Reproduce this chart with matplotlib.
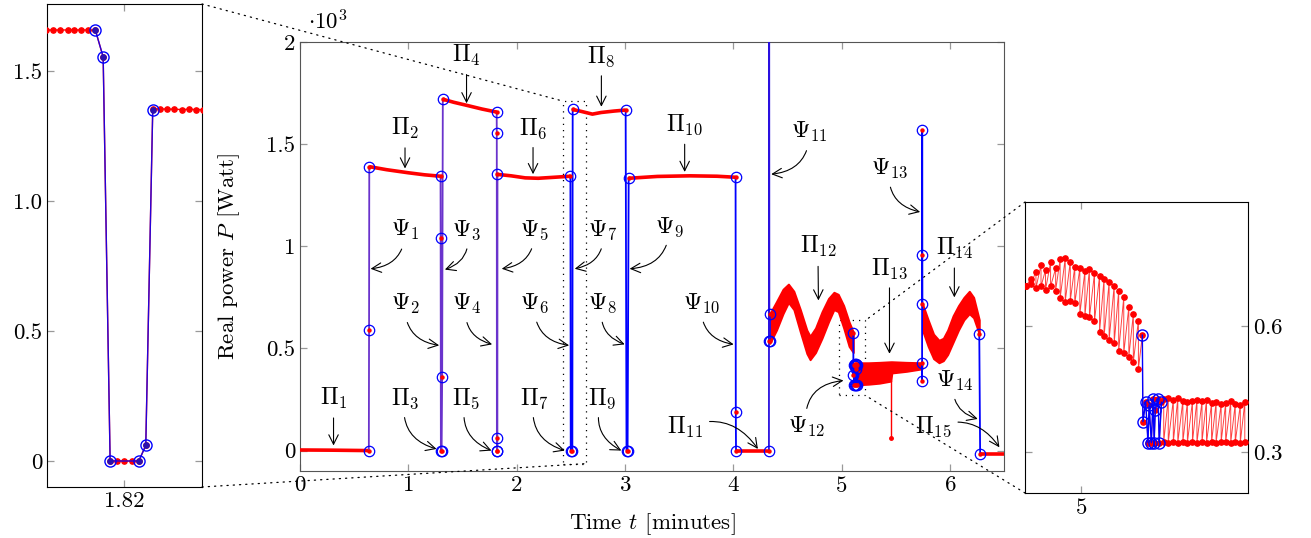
import matplotlib.pyplot as plt
from matplotlib.patches import Rectangle, ConnectionPatch
from matplotlib.ticker import FuncFormatter

plt.rcParams['font.family'] = ['cmr10', 'DejaVu Serif']
plt.rcParams['mathtext.fontset'] = 'cm'
plt.rcParams['axes.formatter.use_mathtext'] = True
plt.rcParams['font.size'] = 16.5

# ---- data: time t [minutes], real power P [10^3 Watt] ----
# steady states Pi_k
pi1_t = [0.0, 0.30, 0.636]
pi1_p = [0.003, 0.002, 0.0]
pi2_t = [0.640, 0.80, 1.00, 1.15, 1.298]
pi2_p = [1.390, 1.375, 1.360, 1.350, 1.343]
pi3_t = [1.301, 1.308]
pi3_p = [0.0, 0.0]
pi4_t = [1.319, 1.42, 1.54, 1.68, 1.8163]
pi4_p = [1.720, 1.705, 1.690, 1.672, 1.657]
pi5_t = [1.8182, 1.8219]
pi5_p = [0.0, 0.0]
pi6_t = [1.8237, 1.95, 2.08, 2.20, 2.35, 2.497]
pi6_p = [1.352, 1.345, 1.335, 1.333, 1.338, 1.343]
pi7_t = [2.500, 2.515]
pi7_p = [0.0, 0.0]
pi8_t = [2.518, 2.60, 2.70, 2.78, 2.90, 3.007]
pi8_p = [1.670, 1.660, 1.647, 1.655, 1.662, 1.667]
pi9_t = [3.015, 3.025]
pi9_p = [0.0, 0.0]
pi10_t = [3.035, 3.30, 3.60, 3.85, 4.022]
pi10_p = [1.333, 1.342, 1.345, 1.343, 1.338]
pi11_t = [4.026, 4.330]
pi11_p = [0.0, 0.0]
pi15_t = [6.280, 6.50]
pi15_p = [-0.015, -0.015]

# oscillating states: upper / lower envelope of the samples
pi12_t = [4.338, 4.40, 4.46, 4.51, 4.56, 4.62, 4.68, 4.71, 4.76, 4.82, 4.88, 4.93, 4.97, 5.02, 5.07, 5.109]
pi12_hi = [0.67, 0.73, 0.79, 0.815, 0.78, 0.69, 0.59, 0.56, 0.60, 0.68, 0.745, 0.775, 0.765, 0.71, 0.63, 0.58]
pi12_lo = [0.525, 0.59, 0.67, 0.725, 0.69, 0.58, 0.475, 0.445, 0.48, 0.55, 0.63, 0.69, 0.68, 0.60, 0.51, 0.48]
pi13_t = [5.143, 5.25, 5.35, 5.455, 5.465, 5.60, 5.743]
pi13_hi = [0.43, 0.43, 0.432, 0.435, 0.435, 0.432, 0.43]
pi13_lo = [0.322, 0.325, 0.33, 0.34, 0.38, 0.388, 0.40]
spike_t = [5.46, 5.46]
spike_p = [0.34, 0.06]
pi14_t = [5.747, 5.80, 5.85, 5.90, 5.94, 5.98, 6.03, 6.08, 6.13, 6.18, 6.22, 6.272]
pi14_hi = [0.72, 0.64, 0.57, 0.54, 0.55, 0.59, 0.66, 0.71, 0.75, 0.78, 0.75, 0.64]
pi14_lo = [0.59, 0.51, 0.45, 0.43, 0.44, 0.47, 0.53, 0.59, 0.64, 0.67, 0.65, 0.57]

# transitions Psi_k (detected samples)
psi1_t = [0.636, 0.638, 0.640]
psi1_p = [0.0, 0.59, 1.39]
psi23_t = [1.298, 1.299, 1.301, 1.308, 1.313, 1.319]
psi23_p = [1.343, 1.04, 0.0, 0.0, 0.36, 1.72]
psi45_t = [1.8163, 1.8173, 1.8182, 1.8219, 1.8228, 1.8237]
psi45_p = [1.657, 1.554, 0.0, 0.0, 0.06, 1.352]
psi67_t = [2.497, 2.500, 2.515, 2.518]
psi67_p = [1.343, 0.0, 0.0, 1.670]
psi89_t = [3.007, 3.015, 3.025, 3.035]
psi89_p = [1.667, 0.0, 0.0, 1.333]
psi10_t = [4.022, 4.024, 4.026]
psi10_p = [1.338, 0.19, 0.0]
psi11_t = [4.330, 4.332, 4.334, 4.336, 4.338]
psi11_p = [0.0, 2.60, 0.535, 0.67, 0.535]
psi12_t = [5.109, 5.110, 5.115, 5.119, 5.121, 5.125, 5.128, 5.130, 5.132, 5.137, 5.139, 5.143]
psi12_p = [0.578, 0.372, 0.418, 0.322, 0.412, 0.322, 0.425, 0.322, 0.400, 0.426, 0.322, 0.418]
psi13_t = [5.743, 5.744, 5.745, 5.746, 5.747]
psi13_p = [0.43, 0.34, 1.57, 0.955, 0.72]
psi14_t = [6.272, 6.280]
psi14_p = [0.57, -0.015]

# left zoom: raw samples around t = 1.82
zoomA_t = [1.8099, 1.8108, 1.8117, 1.8127, 1.8136, 1.8145, 1.8154, 1.8163, 1.8173, 1.8182, 1.8191,
           1.8200, 1.8210, 1.8219, 1.8228, 1.8237, 1.8247, 1.8256, 1.8265, 1.8275, 1.8284, 1.8293, 1.8302]
zoomA_p = [1.658, 1.658, 1.658, 1.658, 1.658, 1.658, 1.658, 1.657, 1.554, 0.0, 0.0,
           0.0, 0.0, 0.0, 0.06, 1.355, 1.354, 1.354, 1.353, 1.352, 1.353, 1.352, 1.352]

# right zoom: raw samples around t = 5.1 (high / low sample of each pair)
zoomB_pre_t = [4.902, 4.911, 4.920, 4.929, 4.937, 4.946, 4.955, 4.963, 4.972, 4.981, 4.989, 4.998,
               5.007, 5.015, 5.024, 5.033, 5.041, 5.050, 5.059, 5.067, 5.076, 5.085, 5.093, 5.102]
zoomB_pre_hi = [0.694, 0.712, 0.729, 0.745, 0.733, 0.751, 0.737, 0.759, 0.761, 0.753, 0.741, 0.737,
                0.731, 0.735, 0.725, 0.719, 0.712, 0.704, 0.696, 0.684, 0.668, 0.645, 0.628, 0.612]
zoomB_pre_lo = [0.694, 0.700, 0.690, 0.694, 0.686, 0.694, 0.684, 0.666, 0.658, 0.660, 0.654, 0.628,
                0.624, 0.620, 0.612, 0.586, 0.575, 0.567, 0.559, 0.541, 0.535, 0.527, 0.515, 0.497]
zoomB_post_t = [5.147, 5.155, 5.164, 5.172, 5.181, 5.189, 5.198, 5.206, 5.215, 5.223, 5.232, 5.240,
                5.249, 5.257, 5.266, 5.274, 5.283, 5.291]
zoomB_post_hi = [0.426, 0.428, 0.424, 0.428, 0.422, 0.418, 0.420, 0.424, 0.420, 0.424, 0.416, 0.418,
                 0.414, 0.416, 0.420, 0.414, 0.412, 0.418]
zoomB_post_lo = [0.324, 0.322, 0.323, 0.322, 0.324, 0.322, 0.323, 0.322, 0.324, 0.322, 0.323, 0.322,
                 0.324, 0.323, 0.322, 0.323, 0.322, 0.324]

RED = '#ff0000'
BLUE = '#0000ff'
PURPLE = '#6a33cc'

fig = plt.figure(figsize=(13.11, 5.38), dpi=100)
ax = fig.add_axes([0.2288, 0.1245, 0.537, 0.7974])
axL = fig.add_axes([0.0359, 0.0948, 0.1182, 0.8978])
axR = fig.add_axes([0.7819, 0.0836, 0.1701, 0.5409])

# ---------------- main axes ----------------
steady = [(pi1_t, pi1_p), (pi2_t, pi2_p), (pi3_t, pi3_p), (pi4_t, pi4_p), (pi5_t, pi5_p),
          (pi6_t, pi6_p), (pi7_t, pi7_p), (pi8_t, pi8_p), (pi9_t, pi9_p), (pi10_t, pi10_p),
          (pi11_t, pi11_p), (pi15_t, pi15_p)]
for t, p in steady:
    ax.plot(t, p, color=RED, lw=2.6, solid_capstyle='butt', zorder=3)

for t, lo, hi in [(pi12_t, pi12_lo, pi12_hi), (pi13_t, pi13_lo, pi13_hi), (pi14_t, pi14_lo, pi14_hi)]:
    ax.fill_between(t, lo, hi, color=RED, edgecolor=RED, lw=1.4, zorder=3)
ax.plot(spike_t, spike_p, color=RED, lw=1, zorder=3)
ax.plot(spike_t[1:], spike_p[1:], 'o', color=RED, ms=2.5, zorder=3)

transitions = [(psi1_t, psi1_p, PURPLE), (psi23_t, psi23_p, PURPLE), (psi45_t, psi45_p, PURPLE),
               (psi67_t, psi67_p, BLUE), (psi89_t, psi89_p, BLUE), (psi10_t, psi10_p, BLUE),
               (psi11_t, psi11_p, '#2a10e0'), (psi12_t, psi12_p, BLUE), (psi13_t, psi13_p, BLUE),
               (psi14_t, psi14_p, BLUE)]
for t, p, c in transitions:
    ax.plot(t, p, color=c, lw=1.3, zorder=4)
    ax.plot(t, p, 'o', ms=7.5, mfc='none', mec=BLUE, mew=0.9, zorder=5)
    ax.plot(t, p, 'o', ms=2.2, color=RED, zorder=5)

ax.set_xlim(0, 6.5)
ax.set_ylim(-0.1, 2.0)
ax.set_xticks([0, 1, 2, 3, 4, 5, 6])
ax.set_yticks([0, 0.5, 1, 1.5, 2])
ax.yaxis.set_major_formatter(FuncFormatter(lambda v, pos: '%g' % v))
ax.set_xlabel('Time $t$ [minutes]')
ax.set_ylabel('Real power $P$ [Watt]')
ax.xaxis.set_label_coords(0.5, -0.093)
ax.yaxis.set_label_coords(-0.082, 0.5)
ax.text(0.012, 1.02, r'$\cdot 10^3$', transform=ax.transAxes, ha='left', va='bottom')

# labels: (text, text position, arrow tip, curvature)
labels = [
    (r'$\Pi_1$', (0.31, 0.255), (0.31, 0.025), 0),
    (r'$\Pi_2$', (0.97, 1.577), (0.97, 1.381), 0),
    (r'$\Pi_3$', (0.97, 0.255), (1.261, 0.008), 0.45),
    (r'$\Psi_1$', (0.97, 1.078), (0.652, 0.89), -0.45),
    (r'$\Psi_2$', (0.97, 0.719), (1.285, 0.515), 0.45),
    (r'$\Psi_3$', (1.538, 1.078), (1.338, 0.886), -0.45),
    (r'$\Psi_4$', (1.538, 0.719), (1.774, 0.52), 0.45),
    (r'$\Pi_4$', (1.538, 1.936), (1.538, 1.70), 0),
    (r'$\Pi_5$', (1.538, 0.255), (1.768, 0.0), 0.45),
    (r'$\Psi_5$', (2.165, 1.078), (1.863, 0.89), -0.45),
    (r'$\Psi_6$', (2.165, 0.719), (2.485, 0.515), 0.45),
    (r'$\Pi_6$', (2.152, 1.577), (2.152, 1.353), 0),
    (r'$\Pi_7$', (2.165, 0.255), (2.445, 0.0), 0.45),
    (r'$\Psi_7$', (2.798, 1.078), (2.537, 0.89), -0.45),
    (r'$\Psi_8$', (2.798, 0.719), (2.998, 0.52), 0.45),
    (r'$\Pi_8$', (2.783, 1.928), (2.783, 1.683), 0),
    (r'$\Pi_9$', (2.795, 0.255), (2.967, 0.0), 0.45),
    (r'$\Psi_9$', (3.413, 1.095), (3.044, 0.89), -0.45),
    (r'$\Pi_{10}$', (3.552, 1.593), (3.552, 1.364), 0),
    (r'$\Psi_{10}$', (3.705, 0.719), (4.004, 0.52), 0.45),
    (r'$\Pi_{11}$', (3.552, 0.114), (4.228, 0.008), -0.4),
    (r'$\Psi_{11}$', (4.705, 1.56), (4.351, 1.353), -0.45),
    (r'$\Pi_{12}$', (4.782, 0.997), (4.787, 0.735), 0),
    (r'$\Psi_{12}$', (4.674, 0.114), (5.018, 0.343), -0.5),
    (r'$\Pi_{13}$', (5.443, 0.89), (5.443, 0.474), 0),
    (r'$\Psi_{13}$', (5.443, 1.38), (5.726, 1.168), 0.45),
    (r'$\Pi_{14}$', (6.042, 0.989), (6.042, 0.75), 0),
    (r'$\Psi_{14}$', (6.042, 0.343), (6.258, 0.155), 0.45),
    (r'$\Pi_{15}$', (5.843, 0.114), (6.458, 0.016), -0.4),
]
for txt, pos, tip, rad in labels:
    ax.annotate(txt, xy=tip, xytext=pos, ha='center', va='center', zorder=6, fontsize=17,
                arrowprops=dict(arrowstyle='->', color='black', lw=0.8,
                                connectionstyle='arc3,rad=%g' % rad, shrinkA=3, shrinkB=0))

# spy rectangles
ax.add_patch(Rectangle((2.426, -0.064), 0.212, 1.775, fill=False, ec='black', lw=0.9,
                       ls=(0, (1, 4)), zorder=2))
ax.add_patch(Rectangle((4.98, 0.27), 0.24, 0.367, fill=False, ec='black', lw=0.9,
                       ls=(0, (1, 4)), zorder=2))

# ---------------- left zoom ----------------
axL.plot(zoomA_t, zoomA_p, color=RED, lw=1, marker='o', ms=3.8, zorder=3)
axL.plot(psi45_t, psi45_p, color=BLUE, lw=1, alpha=0.85, zorder=4)
axL.plot(psi45_t, psi45_p, 'o', ms=8, mfc='none', mec=BLUE, mew=1, zorder=5)
axL.plot(psi45_t, psi45_p, 'o', ms=3.8, color='#2a10b0', zorder=5)
axL.set_xlim(1.81006, 1.83006)
axL.set_ylim(-0.1, 1.758)
axL.set_xticks([1.82])
axL.set_xticklabels(['1.82'])
axL.set_yticks([0, 0.5, 1.0, 1.5])
axL.set_yticklabels(['0', '0.5', '1.0', '1.5'])

# ---------------- right zoom ----------------
zb_t, zb_p = [], []
for t, hi, lo in zip(zoomB_pre_t, zoomB_pre_hi, zoomB_pre_lo):
    zb_t += [t, t]
    zb_p += [hi, lo]
zb_t += psi12_t
zb_p += psi12_p
for t, hi, lo in zip(zoomB_post_t, zoomB_post_hi, zoomB_post_lo):
    zb_t += [t, t]
    zb_p += [hi, lo]
axR.plot(zb_t, zb_p, color=RED, lw=0.7, alpha=0.75, zorder=3)
axR.plot(zb_t, zb_p, 'o', color=RED, ms=3.8, zorder=3)
axR.plot(psi12_t, psi12_p, color=BLUE, lw=1, zorder=4)
axR.plot(psi12_t, psi12_p, 'o', ms=8, mfc='none', mec=BLUE, mew=1, zorder=5)
axR.set_xlim(4.9007, 5.2968)
axR.set_ylim(0.202, 0.895)
axR.set_xticks([5])
axR.set_yticks([0.3, 0.6])
axR.yaxis.tick_right()

for a in (ax, axL, axR):
    a.tick_params(direction='in', top=True, right=True, left=True, bottom=True,
                  length=5, width=0.9, color='#999999', labelsize=16.5)
for s in ax.spines.values():
    s.set_color('#555555')
axR.tick_params(labelleft=False, labelright=True)

# connecting dotted lines
for xyA, xyB, aA in [((1, 1), (2.426, 1.711), axL), ((1, 0), (2.638, -0.064), axL),
                     ((0, 1), (5.22, 0.637), axR), ((0, 0), (5.22, 0.27), axR)]:
    con = ConnectionPatch(xyA=xyA, coordsA=aA.transAxes, xyB=xyB, coordsB=ax.transData,
                          color='black', lw=0.9, ls=(0, (1, 4)))
    fig.add_artist(con)

fig.savefig('out.png', dpi=100)
